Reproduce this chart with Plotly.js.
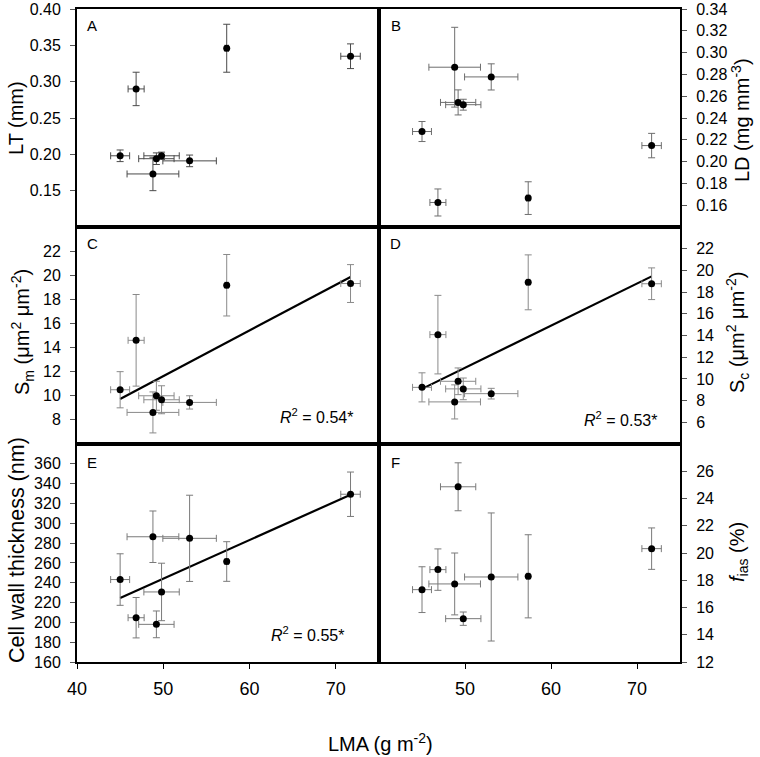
<!DOCTYPE html>
<html>
<head>
<meta charset="utf-8">
<script src="https://cdn.plot.ly/plotly-3.0.1.min.js"></script>
<style>
html,body{margin:0;padding:0;background:#fff;}
#chart{width:760px;height:757px;}
</style>
</head>
<body>
<div id="chart"></div>
<script>
// ---------- data ----------
const LMA      = [45.0, 46.85, 48.8, 49.2, 49.8, 53.05, 57.35, 71.7];
const LMA_err  = [1.1, 0.93, 3.0, 2.05, 2.05, 3.1, 0.2, 1.13];

const LT       = [0.198, 0.290, 0.173, 0.194, 0.198, 0.191, 0.346, 0.335];
const LT_err   = [0.008, 0.023, 0.023, 0.008, 0.005, 0.008, 0.033, 0.017];

const LD       = [0.2276, 0.1625, 0.2866, 0.2543, 0.2522, 0.2777, 0.1665, 0.2147];
const LD_err   = [0.0092, 0.0124, 0.0366, 0.0115, 0.005, 0.012, 0.015, 0.0112];

const Sm       = [10.5, 14.6, 8.62, 10.0, 9.67, 9.45, 19.17, 19.31];
const Sm_err   = [1.5, 3.8, 1.7, 1.2, 1.16, 0.55, 2.55, 1.57];

const Sc       = [9.22, 14.08, 7.88, 9.78, 9.08, 8.64, 18.9, 18.77];
const Sc_err   = [1.34, 3.62, 1.57, 1.23, 1.0, 0.49, 2.53, 1.46];

const CWT      = [243.2, 204.7, 286.4, 198, 230.7, 284.8, 261.4, 329.3];
const CWT_err  = [26, 20.4, 26, 13.5, 29, 43.5, 20, 22.4];

const fias     = [17.31, 18.78, 17.73, 24.86, 15.18, 18.24, 18.29, 20.32];
const fias_err = [1.68, 1.52, 2.27, 1.76, 0.49, 4.7, 3.05, 1.52];

// regression lines (end points)
const fitX = [45, 71.7];
const fitC = [9.73, 19.86];
const fitD = [9.08, 19.45];
const fitE = [224.6, 328.8];

const r2C = "<i>R</i><sup>2</sup> = 0.54*";
const r2D = "<i>R</i><sup>2</sup> = 0.53*";
const r2E = "<i>R</i><sup>2</sup> = 0.55*";

const panelLetters = ["A","B","C","D","E","F"];

// tick values
const ticksLT   = [0.15, 0.20, 0.25, 0.30, 0.35, 0.40];
const ticksLD   = [0.16, 0.18, 0.20, 0.22, 0.24, 0.26, 0.28, 0.30, 0.32, 0.34];
const ticksSm   = [8, 10, 12, 14, 16, 18, 20, 22];
const ticksSc   = [6, 8, 10, 12, 14, 16, 18, 20, 22];
const ticksCWT  = [160, 180, 200, 220, 240, 260, 280, 300, 320, 340, 360];
const ticksF    = [12, 14, 16, 18, 20, 22, 24, 26];
const ticksXL   = [40, 50, 60, 70];
const ticksXR   = [50, 60, 70];

// ---------- layout helpers ----------
const W = 760, H = 757;
const FONT = "Liberation Sans, Arial, sans-serif";
const px = v => v / W;
const py = v => 1 - v / H;
const colL = [px(77), px(379)];
const colR = [px(379), px(680)];
const row1 = [py(227), py(9)];
const row2 = [py(444), py(227)];
const row3 = [py(662), py(444)];

function pts(xa, ya, y, yerr, barColor) {
  return {
    type: "scatter", mode: "markers", x: LMA, y: y,
    xaxis: xa, yaxis: ya,
    marker: {color: "#000", size: 7},
    error_x: {type: "data", array: LMA_err, visible: true, color: barColor, thickness: 1, width: 3.5},
    error_y: {type: "data", array: yerr, visible: true, color: barColor, thickness: 1, width: 3.5},
    showlegend: false, hoverinfo: "x+y"
  };
}
function fit(xa, ya, y) {
  return {type: "scatter", mode: "lines", x: fitX, y: y, xaxis: xa, yaxis: ya,
          line: {color: "#000", width: 2.2}, showlegend: false, hoverinfo: "skip"};
}

const data = [
  pts("x", "y", LT, LT_err, "#4a4a4a"),
  pts("x2", "y2", LD, LD_err, "#6e6e6e"),
  fit("x3", "y3", fitC),
  pts("x3", "y3", Sm, Sm_err, "#8a8a8a"),
  fit("x4", "y4", fitD),
  pts("x4", "y4", Sc, Sc_err, "#8a8a8a"),
  fit("x5", "y5", fitE),
  pts("x5", "y5", CWT, CWT_err, "#7a7a7a"),
  pts("x6", "y6", fias, fias_err, "#7a7a7a")
];

function xax(domain, anchor, showLabels, tickvals) {
  return {
    domain: domain, anchor: anchor, range: [40, 75],
    showline: true, linecolor: "#000", linewidth: 2, mirror: true,
    showgrid: false, zeroline: false,
    ticks: showLabels ? "outside" : "", ticklen: 5, tickwidth: 1, tickcolor: "#000",
    tickvals: tickvals, showticklabels: showLabels,
    ticklabelstandoff: 4,
    tickfont: {family: FONT, size: 18, color: "#000"}
  };
}
function yax(domain, anchor, side, range, tickvals, fmt) {
  return {
    domain: domain, anchor: anchor, side: side, range: range,
    showline: true, linecolor: "#000", linewidth: 2, mirror: true,
    showgrid: false, zeroline: false,
    ticks: "outside", ticklen: 5, tickwidth: 1, tickcolor: "#555",
    tickvals: tickvals, tickformat: fmt,
    ticklabelstandoff: side === "left" ? 6 : 6,
    tickfont: {family: FONT, size: 16, color: "#000"}
  };
}

function ann(text, x, y, size, angle, extra) {
  return Object.assign({
    text: text, xref: "paper", yref: "paper", x: px(x), y: py(y),
    xanchor: "center", yanchor: "middle", showarrow: false,
    textangle: angle || 0,
    font: {family: FONT, size: size, color: "#000"}
  }, extra || {});
}

const letterPos = [[92, 25], [396, 25], [92, 244], [396, 244], [92, 462], [396, 462]];
const annotations = panelLetters.map((t, i) => ann(t, letterPos[i][0], letterPos[i][1], 15));
annotations.push(
  ann(r2C, 316, 416, 16),
  ann(r2D, 620, 419, 16),
  ann(r2E, 307, 634, 16),
  ann("LT (mm)", 16, 118, 20, -90),
  ann("LD (mg mm<sup>-3</sup>)", 740, 120, 20, -90),
  ann("S<sub>m</sub> (μm<sup>2</sup> μm<sup>-2</sup>)", 22, 332, 20, -90),
  ann("S<sub>c</sub> (μm<sup>2</sup> μm<sup>-2</sup>)", 738, 333, 20, -90),
  ann("Cell wall thickness (nm)", 17, 550, 21.5, -90),
  ann("<i>f</i><sub>ias</sub> (%)", 738, 552, 20, -90),
  ann("LMA (g m<sup>-2</sup>)", 380, 742, 20, 0)
);

const layout = {
  width: W, height: H,
  margin: {l: 0, r: 0, t: 0, b: 0},
  paper_bgcolor: "#fff", plot_bgcolor: "#fff",
  showlegend: false,
  font: {family: FONT, color: "#000"},
  xaxis:  xax(colL, "y",  false, ticksXL),
  xaxis2: xax(colR, "y2", false, ticksXR),
  xaxis3: xax(colL, "y3", false, ticksXL),
  xaxis4: xax(colR, "y4", false, ticksXR),
  xaxis5: xax(colL, "y5", true,  ticksXL),
  xaxis6: xax(colR, "y6", true,  ticksXR),
  yaxis:  yax(row1, "x",  "left",  [0.10, 0.40], ticksLT, ".2f"),
  yaxis2: yax(row1, "x2", "right", [0.14, 0.34], ticksLD, ".2f"),
  yaxis3: yax(row2, "x3", "left",  [6, 24], ticksSm, "d"),
  yaxis4: yax(row2, "x4", "right", [4, 24], ticksSc, "d"),
  yaxis5: yax(row3, "x5", "left",  [160, 380], ticksCWT, "d"),
  yaxis6: yax(row3, "x6", "right", [12, 28], ticksF, "d"),
  annotations: annotations
};

Plotly.newPlot("chart", data, layout, {displayModeBar: false, staticPlot: true});
</script>
</body>
</html>
